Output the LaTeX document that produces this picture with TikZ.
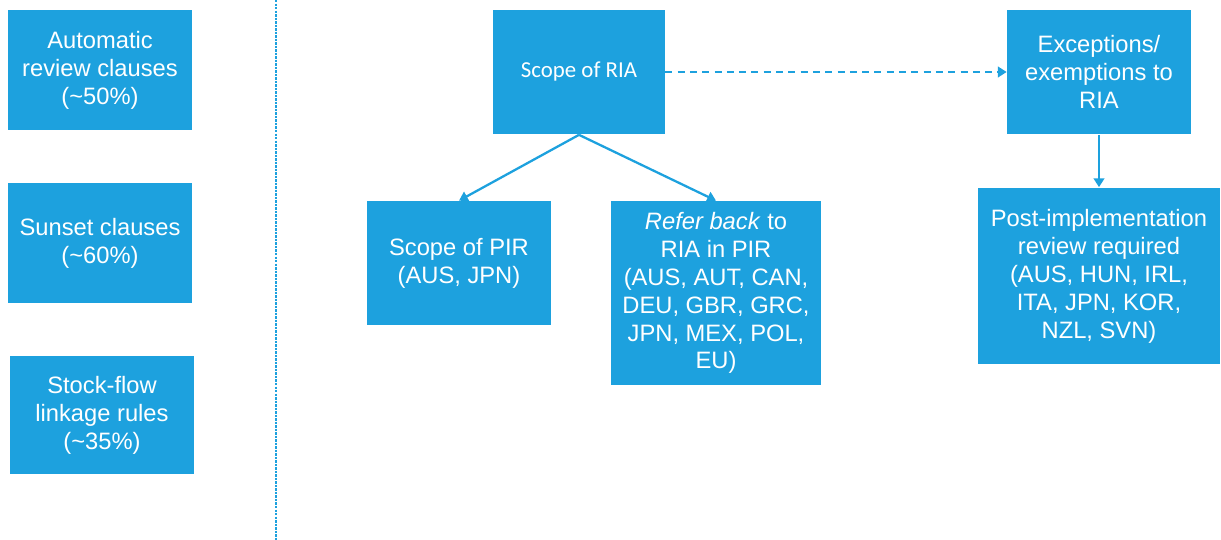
\documentclass[tikz,border=0pt]{standalone}
\usepackage{fontspec}
\setmainfont{Liberation Sans}
\newfontfamily\calibri{Carlito}
\usetikzlibrary{arrows.meta}
\definecolor{oecdblue}{RGB}{29,161,222}

\tikzset{
  box/.style={fill=oecdblue, text=white, align=center, inner sep=0pt,
    font=\fontsize{13.5}{15.9}\selectfont},
  link/.style={draw=oecdblue, line width=1.3pt, -{Triangle[length=5pt,width=6pt]}},
}

\begin{document}
\begin{tikzpicture}[x=0.02cm, y=-0.02cm]
    \useasboundingbox (0,0) rectangle (1221,540);
    % left column
    \node[box, minimum width=3.7cm, minimum height=2.4cm] (auto) at (100,70)
      {Automatic\\review clauses\\(\textasciitilde50\%)};
    \node[box, minimum width=3.7cm, minimum height=2.4cm] (sunset) at (100,243)
      {Sunset clauses\\(\textasciitilde60\%)};
    \node[box, minimum width=3.7cm, minimum height=2.38cm] (stock) at (102,415)
      {Stock-flow\\linkage rules\\(\textasciitilde35\%)};
    \draw[oecdblue, line width=1.4pt, dash pattern=on 1.4pt off 0.6pt] (276,0) -- (276,540);
    % right part
    \node[box, minimum width=3.44cm, minimum height=2.5cm,
      font=\calibri\fontsize{13}{15.6}\selectfont] (riascope) at (579,72) {Scope of RIA};
    \node[box, minimum width=3.68cm, minimum height=2.5cm] (except) at (1099,72)
      {Exceptions/\\exemptions to\\RIA};
    \node[box, minimum width=3.7cm, minimum height=2.48cm] (pirscope) at (459,263)
      {Scope of PIR\\(AUS, JPN)};
    \node[box, minimum width=4.22cm, minimum height=3.68cm] (referback) at (716,293)
      {\textit{Refer back} to\\RIA in PIR\\(AUS, AUT, CAN,\\DEU, GBR, GRC,\\JPN, MEX, POL,\\EU)};
    \node[box, minimum width=4.86cm, minimum height=3.54cm] (postimpl) at (1099,276)
      {Post-implementation\\review required\\(AUS, HUN, IRL,\\ITA, JPN, KOR,\\NZL, SVN)};
    \draw[link] (riascope.south) -- (pirscope.north);
    \draw[link] (riascope.south) -- (referback.north);
    \draw[link, dash pattern=on 4pt off 3pt] (riascope.east) -- (except.west);
    \draw[link] (except.south) -- (postimpl.north);
\end{tikzpicture}
\end{document}
